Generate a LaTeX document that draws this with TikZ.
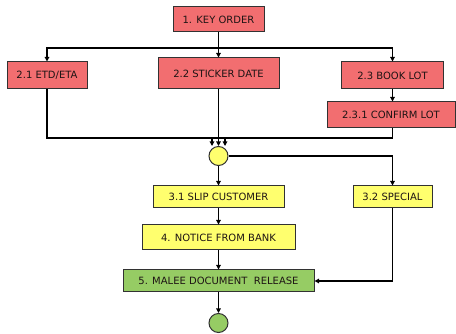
\documentclass[tikz,border=0pt]{standalone}
\usepackage{fontspec}
\setmainfont{DejaVu Sans}
\usetikzlibrary{arrows.meta,calc}
\definecolor{boxred}{RGB}{242,110,112}
\definecolor{boxyellow}{RGB}{255,255,110}
\definecolor{boxgreen}{RGB}{150,204,100}
\definecolor{edgegray}{RGB}{50,50,50}
\definecolor{txt}{RGB}{30,20,20}
\tikzset{
  flowbox/.style={draw=edgegray, line width=1pt, inner sep=0pt, font=\fontsize{10}{12}\selectfont, text=txt, align=center},
  redbox/.style={flowbox, fill=boxred},
  yelbox/.style={flowbox, fill=boxyellow},
  grnbox/.style={flowbox, fill=boxgreen},
  junction/.style={circle, draw=edgegray, line width=1pt, minimum size=19pt, inner sep=0pt},
  arr/.style={line width=1.5pt, -{Triangle[length=4.5pt,width=4.5pt]}},
  plain/.style={line width=1.5pt}
}
\begin{document}
\begin{tikzpicture}[x=1pt,y=-1pt]
\useasboundingbox (0,0) rectangle (456,334);
\fill[white] (0,0) rectangle (456,334);
% nodes
\node[redbox, minimum width=91pt, minimum height=25pt] (b1) at (218.5,19.5) {1. KEY ORDER};
\node[redbox, minimum width=80pt, minimum height=27pt] (b21) at (47,75.5) {2.1 ETD/ETA};
\node[redbox, minimum width=121pt, minimum height=31pt] (b22) at (218.5,73.5) {2.2 STICKER DATE};
\node[redbox, minimum width=102pt, minimum height=27pt] (b23) at (392.5,75.5) {2.3 BOOK LOT};
\node[redbox, minimum width=128pt, minimum height=26pt] (b231) at (391,115) {2.3.1 CONFIRM LOT};
\node[junction, fill=boxyellow] (c1) at (218.5,156) {};
\node[yelbox, minimum width=131pt, minimum height=22pt] (b31) at (218.5,197) {3.1 SLIP CUSTOMER};
\node[yelbox, minimum width=79pt, minimum height=22pt] (b32) at (392.5,197) {3.2 SPECIAL};
\node[yelbox, minimum width=153pt, minimum height=25pt] (b4) at (218.5,237.5) {4. NOTICE FROM BANK};
\node[grnbox, minimum width=191pt, minimum height=22pt] (b5) at (218.5,281) {5. MALEE DOCUMENT\ \ RELEASE};
\node[junction, fill=boxgreen] (c2) at (218.5,323) {};
% bus coordinates
\coordinate (bus) at (218.5,48);
\coordinate (merge) at (218.5,138);
% connectors
\draw[arr] (b1.south) -- (b22.north);
\draw[arr] (bus) -| (b21.north);
\draw[arr] (bus) -| (b23.north);
\draw[arr] (b23.south) -- (b23.south |- b231.north);
\draw[arr] (b21.south) |- (merge) -| ([xshift=-6.5pt]c1.north);
\draw[arr] (b22.south) -- (c1.north);
\draw[arr] (b23.south |- b231.south) |- (merge) -| ([xshift=6.5pt]c1.north);
\draw[arr] (c1.east) -| (b32.north);
\draw[arr] (c1.south) -- (b31.north);
\draw[arr] (b31.south) -- (b4.north);
\draw[arr] (b4.south) -- (b5.north);
\draw[arr] (b32.south) |- (b5.east);
\draw[arr] (b5.south) -- (c2.north);
\end{tikzpicture}
\end{document}
